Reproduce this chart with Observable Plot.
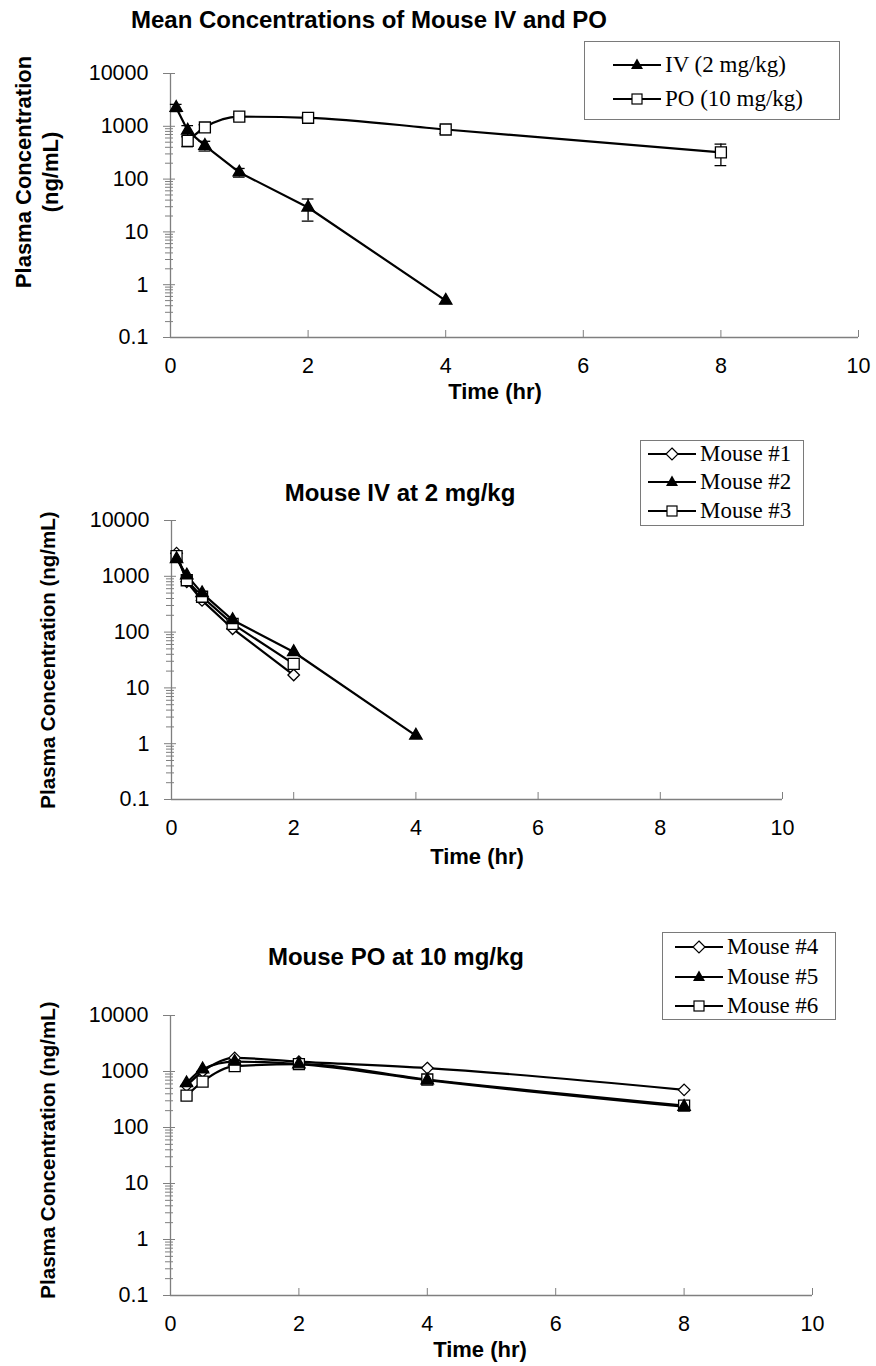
<!DOCTYPE html>
<html><head><meta charset="utf-8">
<script src="https://cdn.jsdelivr.net/npm/d3@7"></script>
<script src="https://cdn.jsdelivr.net/npm/@observablehq/plot@0.6"></script>
<style>
body{margin:0;background:#fff;}
#root{position:relative;width:876px;height:1366px;overflow:hidden;font-family:"Liberation Sans",Arial,sans-serif;color:#000;}
.abs{position:absolute;white-space:nowrap;}
.ttl{font-weight:bold;font-size:24px;transform:translate(-50%,-50%);}
.axt{font-weight:bold;font-size:22px;transform:translate(-50%,-50%);}
.ylab{font-weight:bold;font-size:22px;transform:translate(-50%,-50%) rotate(-90deg);}
.ylab2{font-weight:bold;font-size:20.5px;transform:translate(-50%,-50%) rotate(-90deg);}
.leg{border:1px solid #7a7a7a;background:#fff;box-sizing:border-box;}
.legtxt{font-family:"Liberation Serif","Times New Roman",serif;font-size:23px;transform:translateY(-50%);}
</style></head><body><div id="root"></div>
<script>
// ---------- data ----------
const xTicks = [0, 2, 4, 6, 8, 10];
const yTicks = [0.1, 1, 10, 100, 1000, 10000];

// Mean concentrations (top)
const ivTime = [0.083, 0.25, 0.5, 1, 2, 4];
const ivMean = [2250, 830, 430, 134, 29, 0.5];
const ivSD   = [350, 200, 90, 25, 13, 0];
const poTime = [0.25, 0.5, 1, 2, 4, 8];
const poMean = [530, 950, 1520, 1450, 870, 320];
const poSD   = [120, 120, 180, 120, 140, 140];

// Individual IV mice (middle)
const ivMouseTime = [0.083, 0.25, 0.5, 1, 2, 4];
const mouse1 = [2600, 800, 370, 115, 17, null];
const mouse2 = [2050, 1040, 500, 165, 44, 1.4];
const mouse3 = [2300, 850, 430, 140, 27, null];

// Individual PO mice (bottom)
const poMouseTime = [0.25, 0.5, 1, 2, 4, 8];
const mouse4 = [560, 1000, 1750, 1500, 1150, 470];
const mouse5 = [620, 1100, 1500, 1350, 700, 235];
const mouse6 = [370, 660, 1250, 1350, 720, 245];

// ---------- helpers ----------
const root = document.getElementById("root");
const GRAY = "#7f7f7f";
function txt(s, x, y, cls) {
  const d = document.createElement("div");
  d.className = "abs " + cls; d.textContent = s;
  d.style.left = x + "px"; d.style.top = y + "px";
  root.appendChild(d); return d;
}
function rows(name, t, v) {
  const out = [];
  t.forEach((ti, i) => { if (v[i] != null) out.push({s: name, t: ti, v: v[i]}); });
  return out;
}
const minorTicks = [];
for (let k = 0; k < 4; k++) for (let m = 2; m <= 9; m++) minorTicks.push(+(m * Math.pow(10, k - 1)).toPrecision(3));

const SYM = {
  tri: {symbol: "triangle", fill: "black", stroke: "black", r: 4.6},
  sq: {symbol: "square", fill: "white", stroke: "black", r: 6.2},
  dia: {symbol: d3.symbolDiamond2 || "diamond", fill: "white", stroke: "black", r: 5.2}
};

function glyph(kind) {
  const ns = "http://www.w3.org/2000/svg";
  const s = document.createElementNS(ns, "svg");
  s.setAttribute("width", 50); s.setAttribute("height", 20);
  let h = '<line x1="1" x2="49" y1="10" y2="10" stroke="black" stroke-width="2"/>';
  if (kind === "tri") h += '<polygon points="25,3.5 31,14 19,14" fill="black"/>';
  if (kind === "sq") h += '<rect x="20" y="5" width="10" height="10" fill="white" stroke="black" stroke-width="1.2"/>';
  if (kind === "dia") h += '<polygon points="25,4 31,10 25,16 19,10" fill="white" stroke="black" stroke-width="1.2"/>';
  s.innerHTML = h; return s;
}
function legend(box, entries) {
  const b = document.createElement("div");
  b.className = "abs leg";
  Object.assign(b.style, {left: box.x + "px", top: box.y + "px", width: box.w + "px", height: box.h + "px"});
  root.appendChild(b);
  entries.forEach(e => {
    const g = glyph(e.kind);
    g.style.position = "absolute"; g.style.left = (e.lx - 1) + "px"; g.style.top = (e.y - 10) + "px";
    root.appendChild(g);
    txt(e.label, e.tx, e.y, "legtxt");
  });
}

function chart(o) {
  const errMarks = [];
  if (o.errs) {
    errMarks.push(Plot.ruleX(o.errs, {x: "t", y1: "lo", y2: "hi", stroke: "black", strokeWidth: 1.3}));
    const caps = o.errs.flatMap(d => [{x1: d.t - o.cap, x2: d.t + o.cap, y: d.hi}, {x1: d.t - o.cap, x2: d.t + o.cap, y: d.lo}]);
    errMarks.push(Plot.ruleY(caps, {x1: "x1", x2: "x2", y: "y", stroke: "black", strokeWidth: 1.3}));
  }
  const lineMarks = o.series.map(s => Plot.line(s.data, {x: "t", y: "v", stroke: "black", strokeWidth: 2.2, curve: s.curve || "linear"}));
  const dotMarks = o.series.map(s => Plot.dot(s.data, {x: "t", y: "v", ...SYM[s.kind], strokeWidth: 1.3}));
  const p = Plot.plot({
    width: 876, height: o.height,
    marginTop: o.mt, marginBottom: o.mb, marginLeft: o.ml, marginRight: o.mr,
    style: {fontFamily: '"Liberation Sans", Arial, sans-serif', fontSize: "21px", color: "black", background: "transparent", overflow: "visible"},
    x: {domain: [0, 10]},
    y: {type: "log", domain: [0.1, 10000]},
    marks: [
      Plot.ruleX([0], {stroke: GRAY, strokeWidth: 1.3}),
      Plot.ruleY([0.1], {stroke: GRAY, strokeWidth: 1.3}),
      Plot.axisY(yTicks, {tickSize: 12, dx: 5, tickFormat: () => "", stroke: GRAY, label: null}),
      Plot.axisY(minorTicks, {tickSize: 8, dx: 3, tickFormat: () => "", stroke: GRAY, label: null}),
      Plot.axisY(yTicks, {tickSize: 0, tickPadding: 22, tickFormat: d => String(d), label: null, fontSize: 21.5}),
      Plot.axisX(xTicks, {tickSize: 7, dy: -7, tickFormat: () => "", stroke: GRAY, label: null}),
      Plot.axisX(xTicks, {tickSize: 0, tickPadding: o.xpad, tickFormat: d => String(d), label: null, fontSize: 21.5}),
      ...errMarks, ...lineMarks, ...dotMarks
    ]
  });
  p.style.position = "absolute"; p.style.left = "0px"; p.style.top = o.top + "px";
  root.appendChild(p);
}

// ---------- chart 1: means ----------
const ivRows = rows("IV", ivTime, ivMean);
const poRows = rows("PO", poTime, poMean);
const errs = [
  ...ivTime.map((t, i) => ({t, lo: ivMean[i] - ivSD[i], hi: ivMean[i] + ivSD[i]})).filter(d => d.hi > d.lo),
  ...poTime.map((t, i) => ({t, lo: poMean[i] - poSD[i], hi: poMean[i] + poSD[i]}))
];
chart({top: 40, height: 340, mt: 33, mb: 43, ml: 170, mr: 18, xpad: 20, cap: 0.085, errs,
  series: [{data: poRows, kind: "sq", curve: "monotone-x"}, {data: ivRows, kind: "tri"}]});
txt("Mean Concentrations of Mouse IV and PO", 369, 20, "ttl");
txt("Plasma Concentration", 24, 172, "ylab");
txt("(ng/mL)", 51, 172, "ylab");
txt("Time (hr)", 495, 392, "axt");
legend({x: 584, y: 41, w: 256, h: 79}, [
  {kind: "tri", label: "IV (2 mg/kg)", lx: 613, tx: 665, y: 65},
  {kind: "sq", label: "PO (10 mg/kg)", lx: 613, tx: 665, y: 99}
]);

// ---------- chart 2: IV mice ----------
chart({top: 500, height: 330, mt: 20, mb: 31, ml: 171, mr: 94, xpad: 20,
  series: [
    {data: rows("Mouse #1", ivMouseTime, mouse1), kind: "dia"},
    {data: rows("Mouse #3", ivMouseTime, mouse3), kind: "sq"},
    {data: rows("Mouse #2", ivMouseTime, mouse2), kind: "tri"}
  ]});
txt("Mouse IV at 2 mg/kg", 400, 493, "ttl");
txt("Plasma Concentration (ng/mL)", 48, 660, "ylab2");
txt("Time (hr)", 477, 857, "axt");
legend({x: 640, y: 440, w: 164, h: 86}, [
  {kind: "dia", label: "Mouse #1", lx: 648, tx: 700, y: 454},
  {kind: "tri", label: "Mouse #2", lx: 648, tx: 700, y: 482},
  {kind: "sq", label: "Mouse #3", lx: 648, tx: 700, y: 511}
]);

// ---------- chart 3: PO mice ----------
chart({top: 995, height: 330, mt: 20, mb: 30, ml: 170, mr: 64, xpad: 20,
  series: [
    {data: rows("Mouse #4", poMouseTime, mouse4), kind: "dia", curve: "monotone-x"},
    {data: rows("Mouse #6", poMouseTime, mouse6), kind: "sq", curve: "monotone-x"},
    {data: rows("Mouse #5", poMouseTime, mouse5), kind: "tri", curve: "monotone-x"}
  ]});
txt("Mouse PO at 10 mg/kg", 396, 957, "ttl");
txt("Plasma Concentration (ng/mL)", 48, 1150, "ylab2");
txt("Time (hr)", 480, 1350, "axt");
legend({x: 662, y: 932, w: 174, h: 88}, [
  {kind: "dia", label: "Mouse #4", lx: 675, tx: 727, y: 947},
  {kind: "tri", label: "Mouse #5", lx: 675, tx: 727, y: 977},
  {kind: "sq", label: "Mouse #6", lx: 675, tx: 727, y: 1006}
]);
</script></body></html>
